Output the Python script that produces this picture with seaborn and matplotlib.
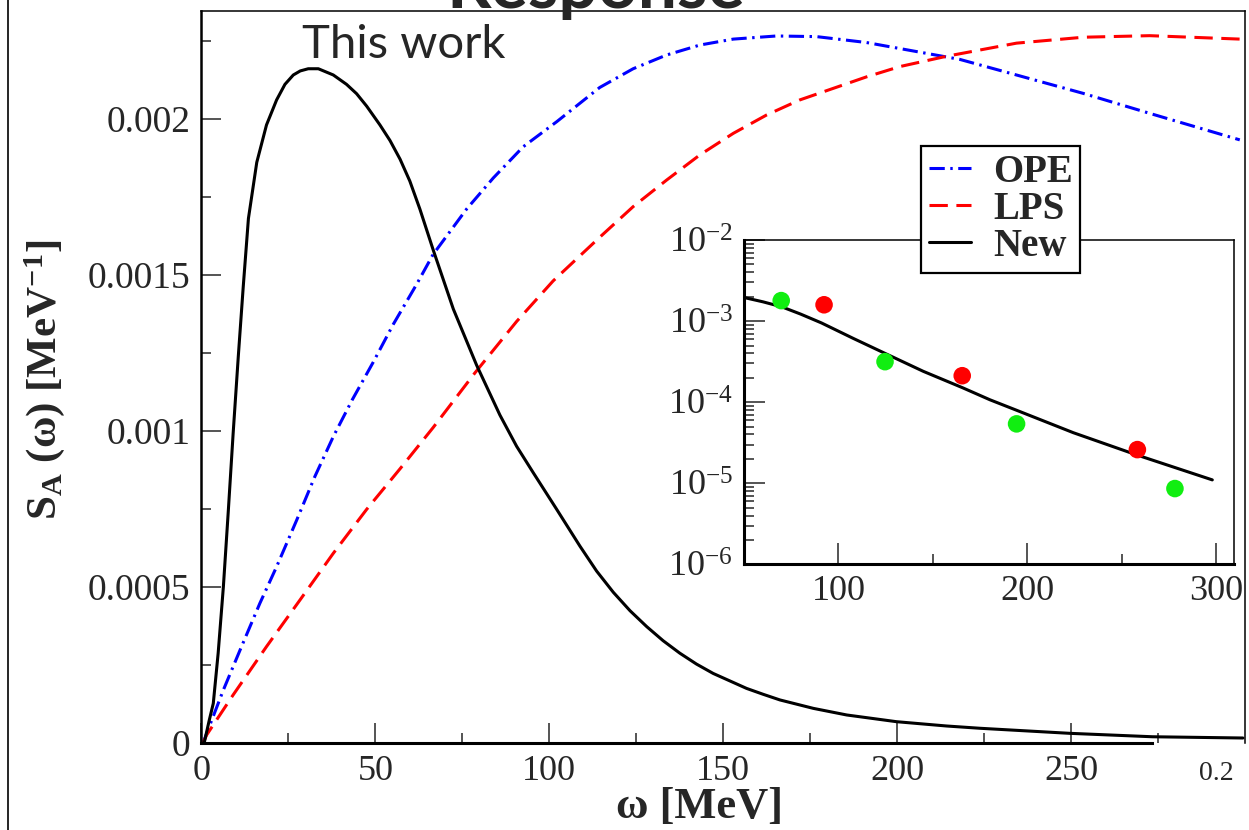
import matplotlib
matplotlib.use('Agg')
import matplotlib.pyplot as plt
import matplotlib.ticker as mticker
from matplotlib.lines import Line2D
import seaborn as sns

# main panel: S_A(omega) in MeV^-1 against omega in MeV
ope_w = [0.5, 1.5, 6.3, 11.1, 16.8, 21.6, 27.4, 32.6, 37.9, 43.4, 49.4, 55.1, 61.9,
         66.6, 76.2, 83.9, 92.5, 102.1, 114.5, 124.1, 133.7, 143.3, 152.9, 165.3,
         176.8, 191.2, 205.6, 218.0, 234.3, 253.5, 272.6, 298.5]
ope_s = [0.0, 0.00003, 0.000169, 0.000297, 0.000447, 0.000564, 0.000714, 0.000853,
         0.000981, 0.0011, 0.00122, 0.00134, 0.00147, 0.001565, 0.00171, 0.00181,
         0.00191, 0.00199, 0.0021, 0.00216, 0.002204, 0.002236, 0.002255, 0.002265,
         0.002263, 0.002244, 0.002215, 0.00219, 0.00214, 0.002081, 0.002017, 0.001932]

lps_w = [0.5, 1.5, 9.1, 18.7, 28.3, 37.9, 47.5, 57.1, 66.6, 78.6, 90.6, 101.1, 114.5,
         124.1, 133.7, 143.3, 152.9, 162.5, 172.0, 181.6, 191.2, 200.8, 214.2, 234.3,
         253.5, 272.6, 298.5]
lps_s = [0.0, 0.000025, 0.000153, 0.000308, 0.000457, 0.000607, 0.000748, 0.000878,
         0.00101, 0.001185, 0.00135, 0.00148, 0.00162, 0.001718, 0.001803, 0.001884,
         0.001953, 0.002012, 0.00206, 0.002097, 0.002134, 0.002167, 0.0022, 0.002242,
         0.002261, 0.002266, 0.002255]

new_w = [0.8, 2.2, 3.4, 4.8, 6.3, 7.7, 9.1, 10.6, 12.0, 13.5, 15.9, 18.7, 21.6, 24.0,
         26.4, 28.4, 30.7, 33.6, 37.9, 41.7, 44.6, 47.5, 51.3, 54.2, 57.1, 59.9, 62.8,
         66.6, 72.4, 79.1, 85.8, 90.6, 95.4, 102.0, 108.8, 113.6, 118.4, 123.2, 128.0,
         132.7, 137.5, 142.3, 147.1, 151.9, 156.7, 161.5, 166.3, 175.9, 185.5, 199.8,
         214.2, 223.8, 249.6, 273.4, 299.4]
new_s = [0.0, 0.00007, 0.000126, 0.000287, 0.0005, 0.00074, 0.00099, 0.00124, 0.00146,
         0.00168, 0.00186, 0.00198, 0.00206, 0.00211, 0.00214, 0.002153, 0.00216,
         0.00216, 0.00214, 0.00211, 0.00208, 0.00204, 0.00198, 0.00193, 0.00187,
         0.0018, 0.00171, 0.00158, 0.00139, 0.00121, 0.00105, 0.00095, 0.000865,
         0.00075, 0.00063, 0.00055, 0.000482, 0.000423, 0.000372, 0.000327, 0.000287,
         0.000252, 0.000222, 0.000198, 0.000174, 0.000155, 0.000137, 0.00011,
         0.0000888, 0.0000673, 0.0000535, 0.0000462, 0.00003, 0.000019, 0.000015]

legend_labels = ['OPE', 'LPS', 'New']

# inset (log scale)
inset_w = [50.6, 60.0, 70.0, 80.0, 91.0, 108.0, 124.7, 145.0, 165.7, 180.3, 194.1,
           224.5, 257.7, 298.1]
inset_s = [1.94e-3, 1.73e-3, 1.5e-3, 1.22e-3, 9.5e-4, 6.1e-4, 4.0e-4, 2.4e-4, 1.51e-4,
           1.07e-4, 8.0e-5, 4.2e-5, 2.25e-5, 1.1e-5]
green_w = [69.7, 124.7, 194.4, 278.3]
green_s = [1.79e-3, 3.16e-4, 5.4e-5, 8.6e-6]
red_w = [92.4, 165.6, 258.4]
red_s = [1.59e-3, 2.12e-4, 2.6e-5]

sns.set_style('ticks')
plt.rcParams['font.family'] = ['Liberation Serif', 'DejaVu Serif']
plt.rcParams['mathtext.fontset'] = 'custom'
plt.rcParams['mathtext.rm'] = 'Liberation Serif'
plt.rcParams['mathtext.it'] = 'Liberation Serif:italic'
plt.rcParams['mathtext.bf'] = 'Liberation Serif:bold'

fig = plt.figure(figsize=(12.49, 8.3), dpi=100)
ax = fig.add_axes([0.1613, 0.1052, 0.8355, 0.8819])

lw = 2.2
sns.lineplot(x=ope_w, y=ope_s, ax=ax, color='#0000ff', lw=lw, sort=False, legend=False)
sns.lineplot(x=lps_w, y=lps_s, ax=ax, color='#ff0000', lw=lw, sort=False, legend=False)
sns.lineplot(x=new_w, y=new_s, ax=ax, color='black', lw=lw, sort=False, legend=False)
lines = ax.get_lines()
lines[0].set_dashes([5, 1.8, 0.8, 1.8])
lines[1].set_dashes([6, 2.8])
for ln in lines:
    ln.set_solid_joinstyle('round')
    ln.set_dash_joinstyle('round')

ax.set_xlim(0, 300)
ax.set_ylim(0, 0.002346)
ax.xaxis.set_major_locator(mticker.FixedLocator([0, 50, 100, 150, 200, 250]))
ax.xaxis.set_minor_locator(mticker.FixedLocator([25, 75, 125, 175, 225, 275]))
ax.yaxis.set_major_locator(mticker.MultipleLocator(0.0005))
ax.yaxis.set_minor_locator(mticker.MultipleLocator(0.00025))
ax.yaxis.set_major_formatter(mticker.FuncFormatter(lambda v, p: '%g' % round(v, 6)))
ax.tick_params(which='major', direction='in', length=14.4, width=1.1, labelsize=27, pad=8)
ax.tick_params(which='minor', direction='in', length=7, width=1.1)
ax.tick_params(axis='x', labelsize=26, pad=9)

for side, w in [('left', 1.8), ('bottom', 2.2), ('top', 1.1), ('right', 1.1)]:
    ax.spines[side].set_linewidth(w)
    ax.spines[side].set_color('black')
ax.spines['bottom'].set_bounds(0, 273.4)

ax.set_xlabel('ω [MeV]', fontsize=32, fontweight='bold')
ax.xaxis.set_label_coords(0.4768, -0.088)
ax.xaxis.label.set_va('center')
ax.set_ylabel(r'$\mathbf{S}_{\mathbf{A}}$ (ω) [MeV$^{\mathbf{-1}}$]', fontsize=31,
              fontweight='bold')
ax.yaxis.set_label_coords(-0.15, 0.4955)
ax.yaxis.label.set_va('center')

ax.text(0.0963, 0.9354, 'This work', transform=ax.transAxes, fontsize=34,
        family='Lato', va='baseline')

# inset
ax_in = fig.add_axes([0.5957, 0.3201, 0.3923, 0.3907])
sns.lineplot(x=inset_w, y=inset_s, ax=ax_in, color='black', lw=lw, sort=False, legend=False)
sns.scatterplot(x=green_w, y=green_s, ax=ax_in, color='#11ee11', s=160,
                edgecolor='none', zorder=3, legend=False)
sns.scatterplot(x=red_w, y=red_s, ax=ax_in, color='#ff0000', s=160,
                edgecolor='none', zorder=3, legend=False)
ax_in.get_lines()[0].set_solid_joinstyle('round')
ax_in.set_yscale('log')
ax_in.set_ylim(1e-6, 1e-2)
ax_in.set_xlim(50, 309.6)
ax_in.xaxis.set_major_locator(mticker.MultipleLocator(100))
ax_in.xaxis.set_minor_locator(mticker.MultipleLocator(50))
ax_in.yaxis.set_major_locator(mticker.LogLocator(base=10, numticks=10))
ax_in.yaxis.set_minor_locator(mticker.LogLocator(base=10, subs=range(2, 10), numticks=20))
ax_in.yaxis.set_minor_formatter(mticker.NullFormatter())
ax_in.tick_params(which='major', direction='in', length=15, width=1.1, labelsize=26, pad=8)
ax_in.tick_params(which='minor', direction='in', length=7.5, width=1.1)
for side, w in [('left', 2.2), ('bottom', 2.2), ('top', 1.1), ('right', 1.1)]:
    ax_in.spines[side].set_linewidth(w)
    ax_in.spines[side].set_color('black')
ax_in.set_xlabel('')
ax_in.set_ylabel('')

leg = ax_in.legend(lines, legend_labels, loc='upper left', bbox_to_anchor=(0.7374, 0.8241),
                   bbox_transform=fig.transFigure, frameon=True, fancybox=False,
                   edgecolor='black', framealpha=1,
                   prop=dict(family='Liberation Serif', weight='bold', size=28),
                   handlelength=1.08, handletextpad=0.57, labelspacing=0.0,
                   borderpad=0.2, borderaxespad=0)
leg.get_frame().set_linewidth(1.6)

# slide leftovers around the plot
fig.text(0.477, 0.990, 'Response', ha='center', va='baseline', fontsize=50,
         family='Lato', weight='bold')
fig.text(1216 / 1249, 1 - 773 / 830, '0.2', ha='center', va='center', fontsize=20)
fig.add_artist(Line2D([0.0064, 0.0064], [0, 1], color='black', lw=1.2))

fig.savefig('out.png', dpi=100)
